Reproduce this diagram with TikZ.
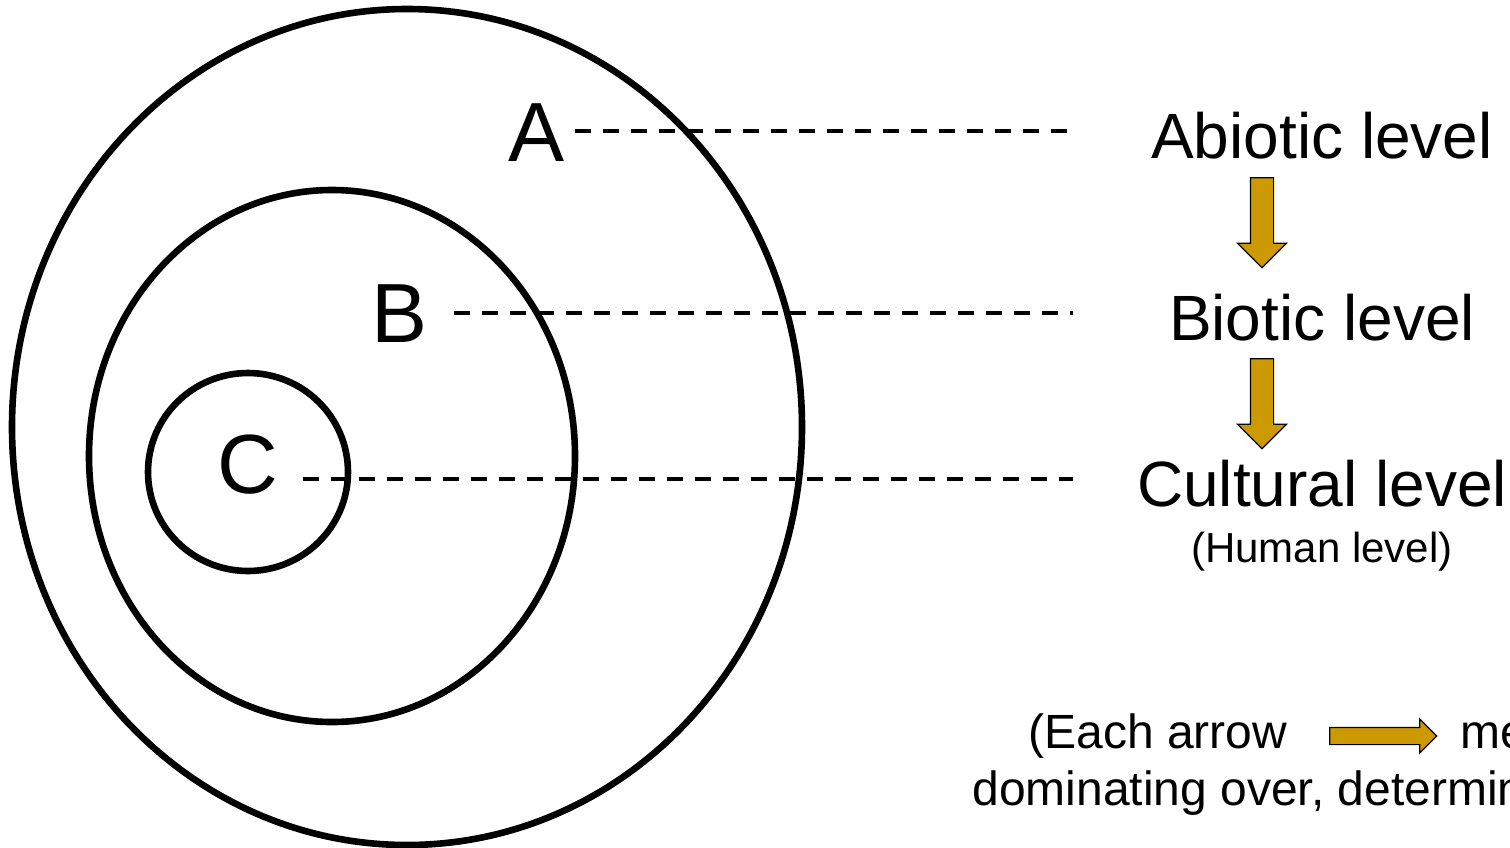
\documentclass[tikz,border=0pt]{standalone}
\usepackage{fontspec}
\setmainfont{Liberation Sans}
\usetikzlibrary{shapes.arrows,positioning,calc}

\definecolor{arrowgold}{HTML}{CC9900}

\begin{document}
\begin{tikzpicture}[
    x=0.5pt, y=-0.5pt,
    ring/.style={draw, line width=3.3pt},
    ringlabel/.style={font=\fontsize{42}{42}\selectfont, inner sep=0pt},
    levellabel/.style={font=\fontsize{32}{36}\selectfont, inner sep=0pt, anchor=base},
    notelabel/.style={font=\fontsize{24}{28}\selectfont, inner sep=0pt, anchor=base west},
    levelline/.style={dash pattern=on 8pt off 6pt, line width=1.8pt},
    goldarrow/.style={single arrow, draw=black, fill=arrowgold, line width=0.6pt, inner xsep=0pt}
]
\useasboundingbox (0,0) rectangle (1510,847);

% nested levels
\draw[ring] (407,427) ellipse [x radius=395, y radius=418];
\draw[ring] (332,456) ellipse [x radius=243, y radius=266];
\draw[ring] (248,472) ellipse [x radius=100, y radius=99];

\node[ringlabel] (lblA) at (537,133) {A};
\node[ringlabel] (lblB) at (400,314) {B};
\node[ringlabel] (lblC) at (248,465) {C};

% level names
\node[levellabel] (abiotic) at (1322,158) {Abiotic level};
\node[levellabel] (biotic) at (1322,340) {Biotic level};
\node[levellabel] (cultural) at (1322,506) {Cultural level};
\node[font=\fontsize{21}{24}\selectfont, inner sep=0pt, anchor=base] (human) at (1322,562) {(Human level)};

\coordinate (stop) at (1073,0);
\draw[levelline] ([xshift=5pt]lblA.east |- 0,131) -- (stop |- 0,131);
\draw[levelline] ([xshift=13pt]lblB.east |- 0,313) -- (stop |- 0,313);
\draw[levelline] ([xshift=12pt]lblC.east |- 0,479) -- (stop |- 0,479);

% dominance arrows
\node[goldarrow, rotate=-90, inner ysep=5.5pt, minimum height=45pt, single arrow head extend=6.5pt] (abtobi) at (1262,217) {};
\node[goldarrow, rotate=-90, inner ysep=5.5pt, minimum height=45pt, single arrow head extend=6.5pt] (bitocu) at (1262,398) {};

% note
\node[notelabel] (note1) at (1028,748) {(Each arrow};
\node[goldarrow, inner ysep=4pt, minimum height=53.5pt, single arrow head extend=4.25pt] (keyarrow) at (1379,736) {};
\node[notelabel] (note2) at (1460,748) {means};
\node[notelabel] (note3) at (972,805) {dominating over, determining};
\end{tikzpicture}
\end{document}
